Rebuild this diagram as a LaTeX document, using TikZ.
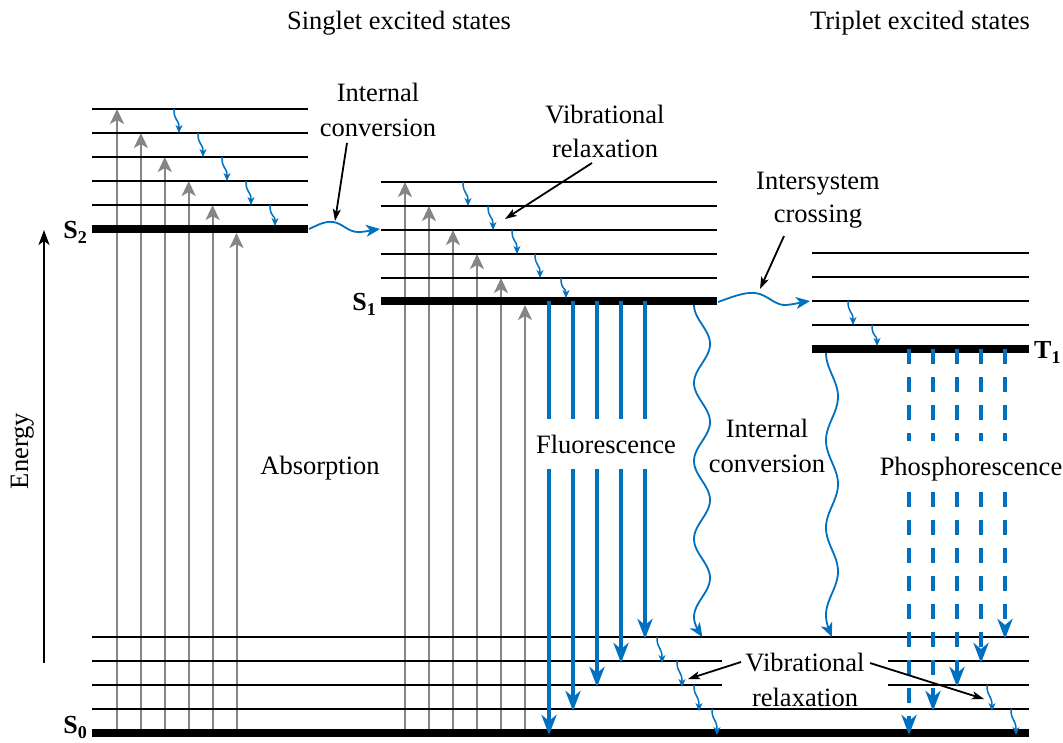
\documentclass[tikz,border=0pt]{standalone}
\usepackage{fontspec}
\setmainfont{Liberation Serif}
\usetikzlibrary{arrows.meta}
\definecolor{myblue}{HTML}{0070C0}
\definecolor{mygray}{HTML}{858585}
\newcommand\vrsq[3]{\draw[sq] (#1,#2) .. controls (#1,{#2+13}) and ({#1+5},{#2+9}) .. ({#1+5},#3);}
\newcommand\slab[2]{\textbf{#1}\raisebox{-0.2em}{\fontsize{18}{18}\selectfont\bfseries #2}}
\begin{document}
\begin{tikzpicture}[x=1pt,y=-1pt,
  lvl/.style={line width=1.8pt},
  gnd/.style={line width=8pt},
  absorb/.style={draw=mygray, line width=2pt, -{Stealth[length=15pt,width=14pt,inset=4pt]}},
  fluo/.style={draw=myblue, line width=4.5pt},
  fluohead/.style={-{Stealth[length=20pt,width=15pt,inset=6pt]}},
  phos/.style={draw=myblue, line width=4.3pt, dash pattern=on 15pt off 13pt},
  wavy/.style={draw=myblue, line width=1.8pt, -{Stealth[length=14pt,width=12pt,inset=4pt]}},
  sq/.style={draw=myblue, line width=1.5pt, -{Stealth[length=8pt,width=7pt,inset=2.5pt]}},
  callout/.style={draw=black, line width=1.8pt, -{Stealth[length=12pt,width=8pt,inset=3pt]}},
  lbl/.style={font=\fontsize{26.5}{30}\selectfont, anchor=base, inner sep=0pt},
  slbl/.style={font=\fontsize{26}{30}\selectfont, inner sep=0pt},
]
\useasboundingbox (0,0) rectangle (1063,742);

% absorption arrows (gray)
\foreach \i in {0,...,4} {
  \draw[absorb] ({117+23.9*\i},733) -- ({117+23.9*\i},{109+24*\i});
  \draw[absorb] ({405+24*\i},733) -- ({405+24*\i},{182+24*\i});
}
\draw[absorb] (236.5,733) -- (236.5,233);
\draw[absorb] (525,733) -- (525,305);

% S2 levels
\foreach \y in {109,133,157,181,205} \draw[lvl] (92,\y) -- (308,\y);
\draw[gnd] (92,229) -- (308,229);
% S1 levels
\foreach \y in {182,206,230,254,278} \draw[lvl] (381,\y) -- (717,\y);
\draw[gnd] (381,301) -- (717,301);
% T1 levels
\foreach \y in {253,277,301,325} \draw[lvl] (812,\y) -- (1029,\y);
\draw[gnd] (812,349) -- (1029,349);
% S0 levels
\draw[lvl] (92,637) -- (1029,637);
\draw[lvl] (92,661) -- (722,661);
\draw[lvl] (888,661) -- (1029,661);
\draw[lvl] (92,685) -- (722,685);
\draw[lvl] (888,685) -- (1029,685);
\draw[lvl] (92,709) -- (1029,709);
\draw[gnd] (92,733) -- (1029,733);

% fluorescence
\foreach \i/\e in {0/735,1/711,2/687,3/663,4/639} {
  \draw[fluo] ({549+24*\i},301) -- ({549+24*\i},419);
  \draw[fluo,fluohead] ({549+24*\i},469) -- ({549+24*\i},\e);
}
% phosphorescence
\foreach \i/\e in {0/735,1/711,2/687,3/663,4/639} {
  \draw[phos] ({909+24*\i},349) -- ({909+24*\i},441);
  \draw[phos,fluohead] ({909+24*\i},492) -- ({909+24*\i},\e);
}

% internal conversion / intersystem crossing wavy arrows
\draw[wavy] (309,229) .. controls (320,224) and (325,221) .. (333,222)
  .. controls (342,223) and (348,232) .. (358,232)
  .. controls (366,232) and (372,230) .. (380,229);
\draw[wavy] (718,302) .. controls (732,297) and (744,292) .. (755,293)
  .. controls (767,294) and (775,306) .. (786,305)
  .. controls (796,304) and (803,302) .. (810,301);
\draw[wavy] plot[domain=305:637, samples=160] ({702-8*cos((\x-305)*4.61538)}, \x);
\draw[wavy] plot[domain=353:637, samples=140] ({832-6*cos((\x-353)*4.11899)}, \x);

% vibrational relaxation squiggles
\vrsq{174}{109}{133}
\vrsq{198}{133}{157}
\vrsq{222}{157}{181}
\vrsq{246}{181}{205}
\vrsq{270}{205}{226}
\vrsq{463}{182}{206}
\vrsq{488}{206}{230}
\vrsq{512}{230}{254}
\vrsq{535}{254}{278}
\vrsq{561}{278}{298}
\vrsq{848}{301}{325}
\vrsq{872}{325}{346}
\vrsq{657}{637}{663}
\vrsq{677}{661}{687}
\vrsq{694}{685}{711}
\vrsq{712}{709}{735}
\vrsq{987}{685}{711}
\vrsq{1011}{709}{735}

% energy axis
\draw[line width=1.8pt, -{Stealth[length=15pt,width=11pt,inset=4pt]}] (44,663) -- (44,230);
\node[lbl, rotate=90] (energy) at (28,451) {Energy};

% state labels
\node[slbl, anchor=base east] (s2) at (87,238) {\slab{S}{2}};
\node[slbl, anchor=base east] (s1) at (376,310) {\slab{S}{1}};
\node[slbl, anchor=base west] (t1) at (1034,358) {\slab{T}{1}};
\node[slbl, anchor=base east] (s0) at (87,733) {\slab{S}{0}};

% text labels
\node[lbl] (singlet) at (399,29) {Singlet excited states};
\node[lbl] (triplet) at (920,29) {Triplet excited states};
\node[lbl] (ic1a) at (378,101) {Internal};
\node[lbl] (ic1b) at (378,136) {conversion};
\node[lbl] (vr1a) at (605,123) {Vibrational};
\node[lbl] (vr1b) at (605,157) {relaxation};
\node[lbl] (isca) at (818,189) {Intersystem};
\node[lbl] (iscb) at (818,222) {crossing};
\node[lbl] (abs) at (320,474) {Absorption};
\node[lbl] (fluor) at (606,453) {Fluorescence};
\node[lbl] (ic2a) at (767,437) {Internal};
\node[lbl] (ic2b) at (767,472) {conversion};
\node[lbl] (phosl) at (971,475) {Phosphorescence};
\node[lbl] (vr2a) at (805,671) {Vibrational};
\node[lbl] (vr2b) at (805,706) {relaxation};

% callout arrows
\coordinate (ic1s) at (347,143); \coordinate (ic1e) at (335,221);
\coordinate (vr1s) at (592,163); \coordinate (vr1e) at (505,219);
\coordinate (iscs) at (784,236); \coordinate (isce) at (760,289);
\coordinate (vr2ls) at (741,662); \coordinate (vr2le) at (688,679);
\coordinate (vr2rs) at (870,663); \coordinate (vr2re) at (984,699);
\draw[callout] (ic1s) -- (ic1e);
\draw[callout] (vr1s) -- (vr1e);
\draw[callout] (iscs) -- (isce);
\draw[callout] (vr2ls) -- (vr2le);
\draw[callout] (vr2rs) -- (vr2re);
\end{tikzpicture}
\end{document}
